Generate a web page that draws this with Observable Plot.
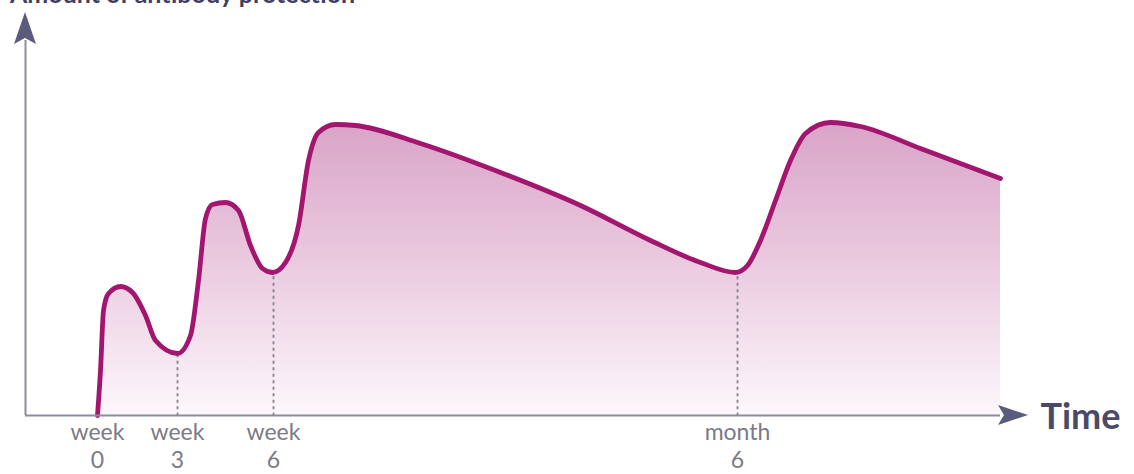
<!DOCTYPE html>
<html>
<head>
<meta charset="utf-8">
<script src="https://cdn.jsdelivr.net/npm/d3@7"></script>
<script src="https://cdn.jsdelivr.net/npm/@observablehq/plot@0.6"></script>
<style>
  html, body { margin: 0; padding: 0; background: #fff; }
  #wrap { position: relative; width: 1134px; height: 474px; overflow: hidden; }
  #title { position: absolute; left: 10px; top: -22px; font: 700 25px Lato, sans-serif; color: #3f3f5f; white-space: nowrap; }
</style>
</head>
<body>
<div id="wrap"><div id="title">Amount of antibody protection</div><div id="chart"></div></div>
<script>
// Schematic time position (arbitrary units) and antibody level (arbitrary units)
const timePos = [72, 75, 78, 83, 95, 107, 120, 130, 152, 165, 173, 180, 187, 200, 213, 225, 237, 247, 260, 273, 283, 293, 310, 330, 395, 475, 555, 625, 675, 710, 722, 735, 750, 765, 780, 805, 835, 895, 975];
const level   = [0, 45, 105, 122, 129, 123, 100, 75, 62, 80, 135, 197, 211, 213, 205, 170, 147, 143, 153, 190, 255, 283, 291, 290, 272, 243, 210, 175, 153, 143, 150, 175, 215, 255, 282, 293, 289, 267, 237];
const tickPos = [72, 152, 248, 712];
const tickLabels = ["week\n0", "week\n3", "week\n6", "month\n6"];
const dropPos = [152, 248, 712];
const dropLevel = [60, 141, 141];
const axisEndX = 975;
const axisEndY = 375;

const data = timePos.map((t, i) => ({t, v: level[i]}));
const drops = dropPos.map((t, i) => ({t, v: dropLevel[i]}));

const defs = () => {
  const d = d3.create("svg:defs");
  const g = d.append("linearGradient").attr("id", "fillGrad").attr("x1", 0).attr("y1", 0).attr("x2", 0).attr("y2", 1);
  g.append("stop").attr("offset", "0%").attr("stop-color", "#d9a3c7");
  g.append("stop").attr("offset", "55%").attr("stop-color", "#edd0e3");
  g.append("stop").attr("offset", "100%").attr("stop-color", "#fdf7fb");
  return d.node();
};

const plot = Plot.plot({
  width: 1134,
  height: 474,
  marginLeft: 25,
  marginRight: 134,
  marginTop: 15,
  marginBottom: 59,
  x: {domain: [0, 975], label: null},
  y: {domain: [0, 400], axis: null},
  marks: [
    defs,
    Plot.areaY(data, {x: "t", y: "v", curve: "monotone-x", fill: "url(#fillGrad)"}),
    Plot.ruleX(drops, {x: "t", y1: 0, y2: "v", stroke: "#8a8a9a", strokeWidth: 2, strokeDasharray: "1.5,5", strokeLinecap: "round"}),
    Plot.lineY(data, {x: "t", y: "v", curve: "monotone-x", stroke: "#a3166f", strokeWidth: 4.8}),
    Plot.ruleY([0], {x1: 0, x2: axisEndX, stroke: "#8c8c9c", strokeWidth: 2}),
    Plot.ruleX([0], {y1: 0, y2: axisEndY, stroke: "#8c8c9c", strokeWidth: 2}),
    Plot.axisX({ticks: tickPos, tickFormat: (d) => tickLabels[tickPos.indexOf(d)], tickSize: 0, tickPadding: 5, fontSize: 23, fill: "#7a7a88", fontFamily: "Lato, sans-serif", lineHeight: 1.2, label: null}),
    Plot.text(["Time"], {x: () => axisEndX + 40, y: () => 0, text: (d) => d, textAnchor: "start", fontSize: 36, fontWeight: "bold", fill: "#4a4a68", fontFamily: "Lato, sans-serif", dy: 2, clip: false})
  ]
});

// arrowheads placed through the plot's scales
const sx = plot.scale("x"), sy = plot.scale("y");
const svg = d3.select(plot);
const ax = sx.apply(0), ay = sy.apply(axisEndY);
svg.append("path")
  .attr("d", `M${ax},${ay - 28} L${ax + 11},${ay + 4} L${ax},${ay - 2} L${ax - 11},${ay + 4} Z`)
  .attr("fill", "#5b5b7d");
const bx = sx.apply(axisEndX), by = sy.apply(0);
svg.append("path")
  .attr("d", `M${bx + 28},${by} L${bx - 2},${by - 10} L${bx + 4},${by} L${bx - 2},${by + 10} Z`)
  .attr("fill", "#5b5b7d");

document.getElementById("chart").appendChild(plot);
</script>
</body>
</html>
